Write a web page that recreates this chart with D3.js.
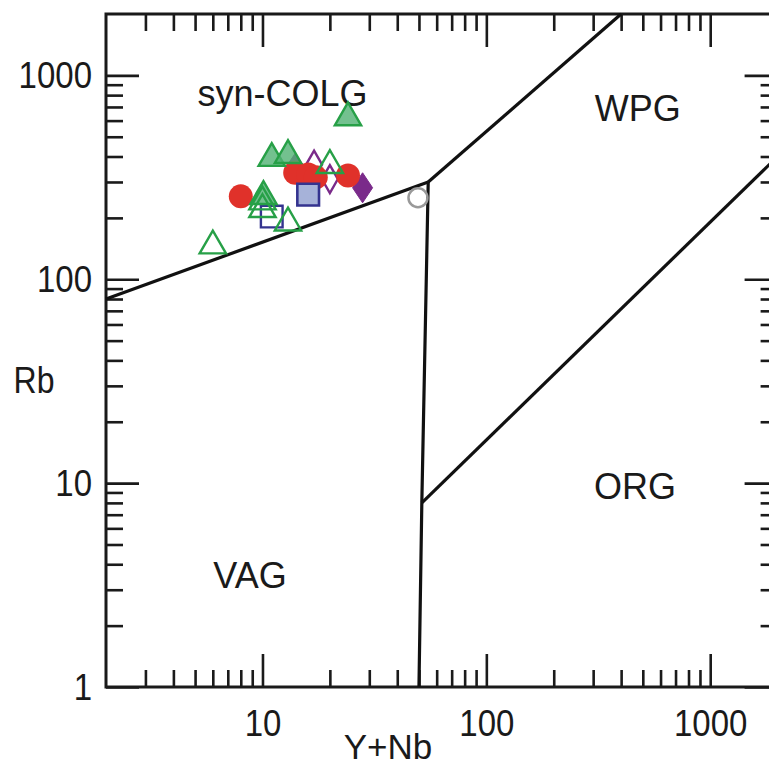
<!DOCTYPE html>
<html>
<head>
<meta charset="utf-8">
<script src="https://cdn.jsdelivr.net/npm/d3@7"></script>
<style>
  html, body { margin: 0; padding: 0; background: #fff; }
  svg { display: block; font-family: "Liberation Sans", Arial, Helvetica, sans-serif; }
  .stretch { transform-box: fill-box; transform-origin: 50% 50%; transform: scaleY(1.14); }
</style>
</head>
<body>
<svg id="chart" width="769" height="767"></svg>
<script>
// ---------- data ----------
const xMajorTicks = [10, 100, 1000];
const yMajorTicks = [1, 10, 100, 1000];

// Pearce et al. (1984) field boundaries [Y+Nb, Rb]
const boundaryVagColg = [[2, 80], [55, 300]];
const boundaryColgWpg = [[55, 300], [400, 2000]];
const boundaryVagOrg  = [[55, 300], [51.5, 8], [50, 1]];
const boundaryWpgOrg  = [[51.5, 8], [2000, 400]];

const fieldLabels = ["syn-COLG", "WPG", "ORG", "VAG"];
const fieldLabelX = [12.3, 475, 461, 8.8];
const fieldLabelY = [707, 595, 8.4, 3.05];

// samples [Y+Nb, Rb]
const filledTriangles = [[24.1, 620], [11.0, 392], [13.0, 405], [10.1, 255]];
const openTriangles   = [[6.0, 146], [10.0, 220], [10.0, 240], [13.0, 189], [20.0, 362]];
const redCircles      = [[8.0, 255], [14.0, 333], [16.0, 326], [17.3, 316], [24.1, 323]];
const filledSquares   = [[16.0, 260]];
const openSquares     = [[11.0, 203]];
const filledDiamonds  = [[14.0, 350], [28.0, 281]];
const openDiamonds    = [[17.0, 365], [20.0, 310]];
const grayCircles     = [[49.5, 251]];

// ---------- layout ----------
const svg = d3.select("#chart");
const pL = 106, pR = 777.6, pT = 14, pB = 687;
const x = d3.scaleLog().domain([2, 2000]).range([pL, pR]);
const y = d3.scaleLog().domain([1, 2000]).range([pB, pT]);

function minors(lo, hi) {
  const out = [];
  for (let d = 1; d <= 1000; d *= 10)
    for (let m = 2; m <= 9; m++) { const v = m * d; if (v > lo && v < hi) out.push(v); }
  return out;
}
const xMinor = minors(2, 2000);
const yMinor = minors(1, 2000);

const majorLen = 33, minorLen = 17;
const tickW = 2.6;

function styleAxis(g) {
  g.select(".domain").remove();
  g.selectAll(".tick line").attr("stroke", "#1a1a1a").attr("stroke-width", tickW);
  g.selectAll(".tick text").attr("fill", "#1a1a1a").attr("font-size", 33)
    .attr("class", "stretch")
    .attr("font-family", '"Liberation Sans", Arial, sans-serif');
}

// bottom
svg.append("g").attr("transform", `translate(0,${pB})`)
  .call(d3.axisBottom(x).tickValues(xMajorTicks).tickSizeInner(-majorLen).tickSizeOuter(0)
    .tickPadding(24).tickFormat(d3.format("d")))
  .call(styleAxis);
svg.append("g").attr("transform", `translate(0,${pB})`)
  .call(d3.axisBottom(x).tickValues(xMinor).tickSizeInner(-minorLen).tickSizeOuter(0).tickFormat(""))
  .call(styleAxis);
// top
svg.append("g").attr("transform", `translate(0,${pT})`)
  .call(d3.axisTop(x).tickValues(xMajorTicks).tickSizeInner(-majorLen).tickSizeOuter(0).tickFormat(""))
  .call(styleAxis);
svg.append("g").attr("transform", `translate(0,${pT})`)
  .call(d3.axisTop(x).tickValues(xMinor).tickSizeInner(-minorLen).tickSizeOuter(0).tickFormat(""))
  .call(styleAxis);
// left
svg.append("g").attr("transform", `translate(${pL},0)`)
  .call(d3.axisLeft(y).tickValues(yMajorTicks).tickSizeInner(-majorLen).tickSizeOuter(0)
    .tickPadding(14).tickFormat(d3.format("d")))
  .call(styleAxis);
svg.append("g").attr("transform", `translate(${pL},0)`)
  .call(d3.axisLeft(y).tickValues(yMinor).tickSizeInner(-minorLen).tickSizeOuter(0).tickFormat(""))
  .call(styleAxis);
// right
svg.append("g").attr("transform", `translate(${pR},0)`)
  .call(d3.axisRight(y).tickValues(yMajorTicks).tickSizeInner(-majorLen).tickSizeOuter(0).tickFormat(""))
  .call(styleAxis);
svg.append("g").attr("transform", `translate(${pR},0)`)
  .call(d3.axisRight(y).tickValues(yMinor).tickSizeInner(-minorLen).tickSizeOuter(0).tickFormat(""))
  .call(styleAxis);

// frame
svg.append("rect").attr("x", pL).attr("y", pT)
  .attr("width", pR - pL).attr("height", pB - pT)
  .attr("fill", "none").attr("stroke", "#1a1a1a").attr("stroke-width", 3);

// boundaries
const line = d3.line().x(d => x(d[0])).y(d => y(d[1]));
[boundaryVagColg, boundaryColgWpg, boundaryVagOrg, boundaryWpgOrg].forEach(b => {
  svg.append("path").attr("d", line(b)).attr("fill", "none")
    .attr("stroke", "#111").attr("stroke-width", 3.2).attr("stroke-linejoin", "miter");
});

// field labels
svg.append("g").selectAll("text").data(fieldLabels).join("text")
  .attr("x", (d, i) => x(fieldLabelX[i])).attr("y", (d, i) => y(fieldLabelY[i]))
  .attr("text-anchor", "middle").attr("font-size", 36).attr("fill", "#1a1a1a")
  .text(d => d);

// axis titles
svg.append("text").attr("x", 34).attr("y", 391).attr("text-anchor", "middle")
  .attr("class", "stretch")
  .attr("font-size", 32).attr("fill", "#1a1a1a").text("Rb");
svg.append("text").attr("x", 388).attr("y", 759).attr("text-anchor", "middle")
  .attr("font-size", 35).attr("fill", "#1a1a1a").text("Y+Nb");

// ---------- markers ----------
const green = "#27a047", greenFill = "rgba(80,178,115,0.8)";
const red = "#e0312a", blue = "#34338f", blueFill = "#a6b2d9", purple = "#7a2a8a";
const triPath = d3.symbol(d3.symbolTriangle, 300)();
const sqPath = d3.symbol(d3.symbolSquare, 470)();
const diamond = (hw, hh) => `M0,${-hh}L${hw},0L0,${hh}L${-hw},0Z`;

function draw(data, path, fill, stroke, sw) {
  svg.append("g").selectAll("path").data(data).join("path")
    .attr("transform", d => `translate(${x(d[0])},${y(d[1])})`)
    .attr("d", path).attr("fill", fill).attr("stroke", stroke).attr("stroke-width", sw)
    .attr("stroke-linejoin", "miter");
}

draw(filledDiamonds, diamond(10, 15), purple, purple, 1);
draw(openDiamonds, diamond(8, 14), "none", purple, 2.4);
svg.append("g").selectAll("circle").data(redCircles).join("circle")
  .attr("cx", d => x(d[0])).attr("cy", d => y(d[1])).attr("r", 12).attr("fill", red);
draw(filledSquares, sqPath, blueFill, blue, 2.6);
draw(openSquares, sqPath, "none", blue, 2.4);
draw(filledTriangles, triPath, greenFill, green, 2.4);
draw(openTriangles, triPath, "none", green, 2.4);
svg.append("g").selectAll("circle").data(grayCircles).join("circle")
  .attr("cx", d => x(d[0])).attr("cy", d => y(d[1])).attr("r", 9.5)
  .attr("fill", "none").attr("stroke", "#999").attr("stroke-width", 2.5);
</script>
</body>
</html>
